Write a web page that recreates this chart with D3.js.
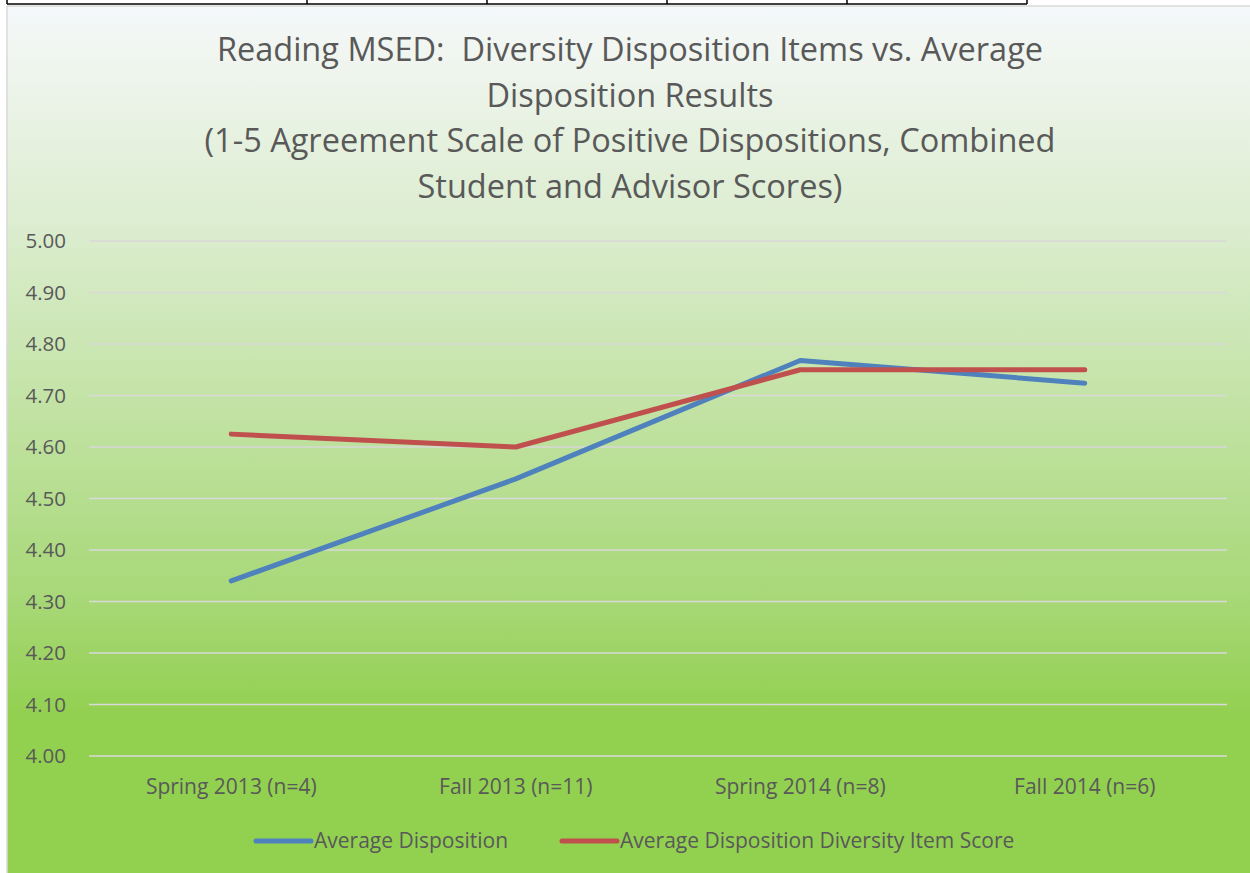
<!DOCTYPE html>
<html>
<head>
<meta charset="utf-8">
<script src="https://cdn.jsdelivr.net/npm/d3@7"></script>
<style>
  body { margin: 0; background: #fff; }
  text { font-family: "Open Sans", "Noto Sans", sans-serif; fill: #595959; white-space: pre; }
</style>
</head>
<body>
<svg id="chart" width="1250" height="873"></svg>
<script>
// Chart data
const categories = ['Spring 2013 (n=4)', 'Fall 2013 (n=11)', 'Spring 2014 (n=8)', 'Fall 2014 (n=6)'];
const avgDisposition = [4.34, 4.538, 4.768, 4.724];
const diversityItem = [4.625, 4.60, 4.75, 4.75];
const seriesNames = ['Average Disposition', 'Average Disposition Diversity Item Score'];
const yTicks = [4.0, 4.1, 4.2, 4.3, 4.4, 4.5, 4.6, 4.7, 4.8, 4.9, 5.0];
const titleLines = [
    'Reading MSED:  Diversity Disposition Items vs. Average',
    'Disposition Results',
    '(1-5 Agreement Scale of Positive Dispositions, Combined',
    'Student and Advisor Scores)'
];
// Column edges of the table row cut off above the chart
const tableCols = [7, 307, 487, 667, 847, 1027];

const svg = d3.select('#chart');
const colours = ['#4f81bd', '#c0504d'];
const margin = { left: 89, right: 1227, top: 241, bottom: 756 };

// Background gradient (light at the top, green at the bottom)
const defs = svg.append('defs');
const grad = defs.append('linearGradient')
    .attr('id', 'bg')
    .attr('gradientUnits', 'userSpaceOnUse')
    .attr('x1', 0).attr('x2', 0).attr('y1', 6).attr('y2', 873);
grad.append('stop').attr('offset', '0').attr('stop-color', '#f4f8fb');
grad.append('stop').attr('offset', '0.05').attr('stop-color', '#f1f6f1');
grad.append('stop').attr('offset', '0.25').attr('stop-color', '#dcedd0');
grad.append('stop').attr('offset', '0.68').attr('stop-color', '#a8d878');
grad.append('stop').attr('offset', '0.82').attr('stop-color', '#92d050');
grad.append('stop').attr('offset', '1').attr('stop-color', '#92d050');

// Table fragment above
const tableG = svg.append('g').attr('stroke', '#000').attr('stroke-width', 1.5);
tableG.append('line').attr('x1', tableCols[0]).attr('x2', d3.max(tableCols)).attr('y1', 4).attr('y2', 4);
tableG.selectAll('line.col').data(tableCols).enter().append('line')
    .attr('class', 'col')
    .attr('x1', d => d).attr('x2', d => d).attr('y1', 0).attr('y2', 4);

// Chart area
svg.append('rect')
    .attr('x', 7).attr('y', 6).attr('width', 1260).attr('height', 880)
    .attr('fill', 'url(#bg)')
    .attr('stroke', '#d9d9d9').attr('stroke-width', 1.5);

// Title
svg.append('g').selectAll('text').data(titleLines).enter().append('text')
    .attr('x', 630)
    .attr('y', (d, i) => 61 + i * 45.5)
    .attr('text-anchor', 'middle')
    .style('font-size', '32.5px')
    .text(d => d);

// Scales
const x = d3.scaleBand().domain(categories).range([margin.left, margin.right]);
const y = d3.scaleLinear().domain([4, 5]).range([margin.bottom, margin.top]);

// Gridlines
svg.append('g').selectAll('line').data(yTicks).enter().append('line')
    .attr('x1', margin.left).attr('x2', margin.right)
    .attr('y1', d => y(d)).attr('y2', d => y(d))
    .attr('stroke', '#d9d9d9').attr('stroke-width', 1.5);

// Y axis labels
const yAxis = d3.axisLeft(y).tickValues(yTicks).tickFormat(d3.format('.2f')).tickSize(0).tickPadding(23);
svg.append('g')
    .attr('transform', `translate(${margin.left},0)`)
    .call(yAxis)
    .call(g => g.select('.domain').remove())
    .selectAll('text')
    .style('font-family', '"Open Sans", "Noto Sans", sans-serif')
    .style('font-size', '20.5px')
    .attr('fill', '#595959');

// X axis labels
const xAxis = d3.axisBottom(x).tickSize(0).tickPadding(23);
svg.append('g')
    .attr('transform', `translate(0,${margin.bottom})`)
    .call(xAxis)
    .call(g => g.select('.domain').remove())
    .selectAll('text')
    .style('font-family', '"Open Sans", "Noto Sans", sans-serif')
    .style('font-size', '21px')
    .attr('fill', '#595959');

// Lines
const line = d3.line()
    .x((d, i) => x(categories[i]) + x.bandwidth() / 2)
    .y(d => y(d));
[avgDisposition, diversityItem].forEach((s, i) => {
    svg.append('path')
        .datum(s)
        .attr('d', line)
        .attr('fill', 'none')
        .attr('stroke', colours[i])
        .attr('stroke-width', 5)
        .attr('stroke-linecap', 'round')
        .attr('stroke-linejoin', 'round');
});

// Legend
const legendX = [256, 562];
const legend = svg.append('g').selectAll('g').data(seriesNames).enter().append('g')
    .attr('transform', (d, i) => `translate(${legendX[i]},841)`);
legend.append('line')
    .attr('x1', 0).attr('x2', 55)
    .attr('stroke', (d, i) => colours[i])
    .attr('stroke-width', 5)
    .attr('stroke-linecap', 'round');
legend.append('text')
    .attr('x', 58).attr('dy', '0.35em')
    .style('font-size', '21px')
    .text(d => d);
</script>
</body>
</html>
